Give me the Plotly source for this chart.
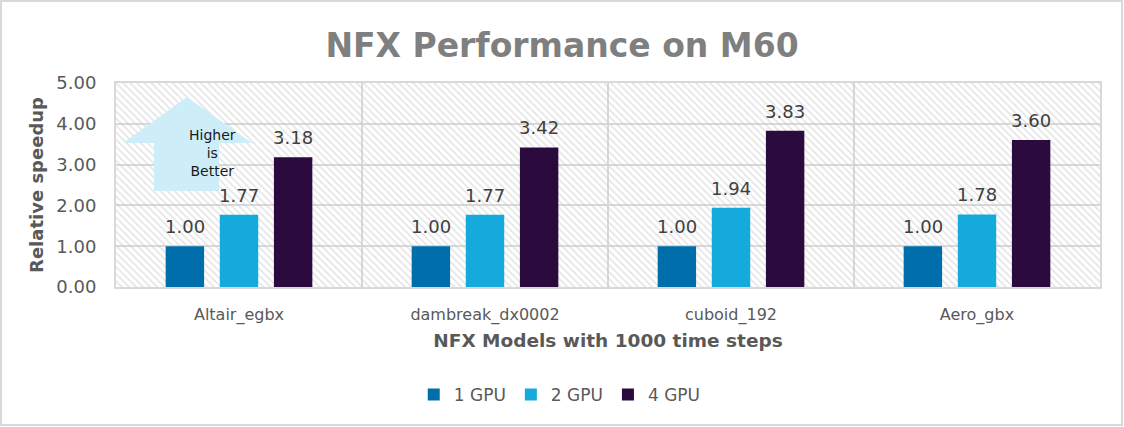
import plotly.graph_objects as go

categories = ["Altair_egbx", "dambreak_dx0002", "cuboid_192", "Aero_gbx"]
series_names = ["1 GPU", "2 GPU", "4 GPU"]
gpu1 = [1.00, 1.00, 1.00, 1.00]
gpu2 = [1.77, 1.77, 1.94, 1.78]
gpu4 = [3.18, 3.42, 3.83, 3.60]
y_ticks = [0, 1, 2, 3, 4, 5]
colors = ["#006EAA", "#14AADB", "#2B0A3D"]

FONT = "DejaVu Sans"
GRID = "#D9D9D9"
TXT = "#595959"

xpos = list(range(len(categories)))
xmin, xmax = -0.5, len(categories) - 0.5
ymin, ymax = 0, 5
BARGAP, GROUPGAP = 0.34, 0.29

fig = go.Figure()
# patterned plot-area background on the base subplot
fig.add_trace(go.Scatter(
    x=[xmin, xmax, xmax, xmin, xmin], y=[ymin, ymin, ymax, ymax, ymin],
    fill="toself", mode="lines", line=dict(width=0, color="rgba(0,0,0,0)"),
    fillcolor="rgba(0,0,0,0)",
    fillpattern=dict(shape="\\", fgcolor="#C8C8C8", bgcolor="rgba(0,0,0,0)",
                     size=5, solidity=0.3),
    hoverinfo="skip", showlegend=False, xaxis="x", yaxis="y"))

# bars on overlay subplot so they sit above the pattern
nser = len(series_names)
slot = (1 - BARGAP) / nser
for i, (name, vals, c) in enumerate(zip(series_names, [gpu1, gpu2, gpu4], colors)):
    fig.add_trace(go.Bar(
        x=xpos, y=vals, name=name, marker=dict(color=c, line=dict(width=0)),
        xaxis="x2", yaxis="y2"))
    off = (i - (nser - 1) / 2) * slot
    for xp, v in zip(xpos, vals):
        fig.add_annotation(x=xp + off, y=v, xref="x2", yref="y2", text=f"{v:.2f}",
                           showarrow=False, yanchor="bottom", yshift=7,
                           font=dict(family=FONT, size=18, color="#404040"))

fig.update_layout(
    width=1124, height=427,
    margin=dict(l=116, r=24, t=83, b=140),
    paper_bgcolor="white", plot_bgcolor="white",
    font=dict(family=FONT, color=TXT),
    barmode="group", bargap=BARGAP, bargroupgap=GROUPGAP,
    title=dict(text="<b>NFX Performance on M60</b>", x=0.5, xanchor="center",
               xref="container", y=1 - 45 / 427, yref="container", yanchor="middle",
               font=dict(family=FONT, size=33, color="#7F7F7F")),
    legend=dict(orientation="h", xref="container", x=0.498, xanchor="center",
                yref="container", y=1 - 395 / 427, yanchor="middle",
                font=dict(family=FONT, size=17, color=TXT),
                itemwidth=30, traceorder="normal"),
    showlegend=True,
    xaxis=dict(
        range=[xmin, xmax], tickvals=xpos, ticktext=categories,
        showgrid=False, zeroline=False,
        showline=True, linecolor=GRID, linewidth=2, mirror=True,
        ticks="", ticklabelstandoff=12, tickfont=dict(family=FONT, size=16, color=TXT),
        minor=dict(tick0=0.5, dtick=1, showgrid=True, gridcolor=GRID, gridwidth=2, ticks=""),
        title=dict(text="<b>NFX Models with 1000 time steps</b>", standoff=10,
                   font=dict(family=FONT, size=18.5, color=TXT)),
    ),
    yaxis=dict(
        range=[ymin, ymax], tickvals=y_ticks, ticktext=[f"{v:.2f}" for v in y_ticks],
        showgrid=True, gridcolor=GRID, gridwidth=2, zeroline=False,
        showline=True, linecolor=GRID, linewidth=2, mirror=True,
        ticks="", ticklabelstandoff=14, tickfont=dict(family=FONT, size=18, color=TXT),
        title=dict(text="<b>Relative speedup</b>", standoff=8,
                   font=dict(family=FONT, size=18, color=TXT)),
    ),
    xaxis2=dict(range=[xmin, xmax], overlaying="x", visible=False, showgrid=False),
    yaxis2=dict(range=[ymin, ymax], overlaying="y", visible=False, showgrid=False),
)

# "Higher is Better" arrow callout (paper coords relative to plot area)
L, T, PW, PH = 116, 83, 984, 204
def px(x):
    return (x - L) / PW
def py(y):
    return (T + PH - y) / PH
pts = [(187, 97), (252, 143), (219, 143), (219, 191), (154, 191), (154, 143), (123, 143)]
path = "M " + " L ".join(f"{px(a):.5f},{py(b):.5f}" for a, b in pts) + " Z"
fig.add_shape(type="path", path=path, xref="paper", yref="paper",
              fillcolor="#CDEEF9", line=dict(width=0), layer="above")
fig.add_annotation(text="Higher<br>is<br>Better", xref="paper", yref="paper",
                   x=px(187), y=py(153), showarrow=False, align="center",
                   font=dict(family=FONT, size=14, color="#1A1A1A"))

# chart outer border
fig.add_shape(type="rect", xref="paper", yref="paper",
              x0=px(1), x1=px(1122), y0=py(425), y1=py(1),
              line=dict(color=GRID, width=2), fillcolor="rgba(0,0,0,0)", layer="below")

fig.write_html("out.html")
